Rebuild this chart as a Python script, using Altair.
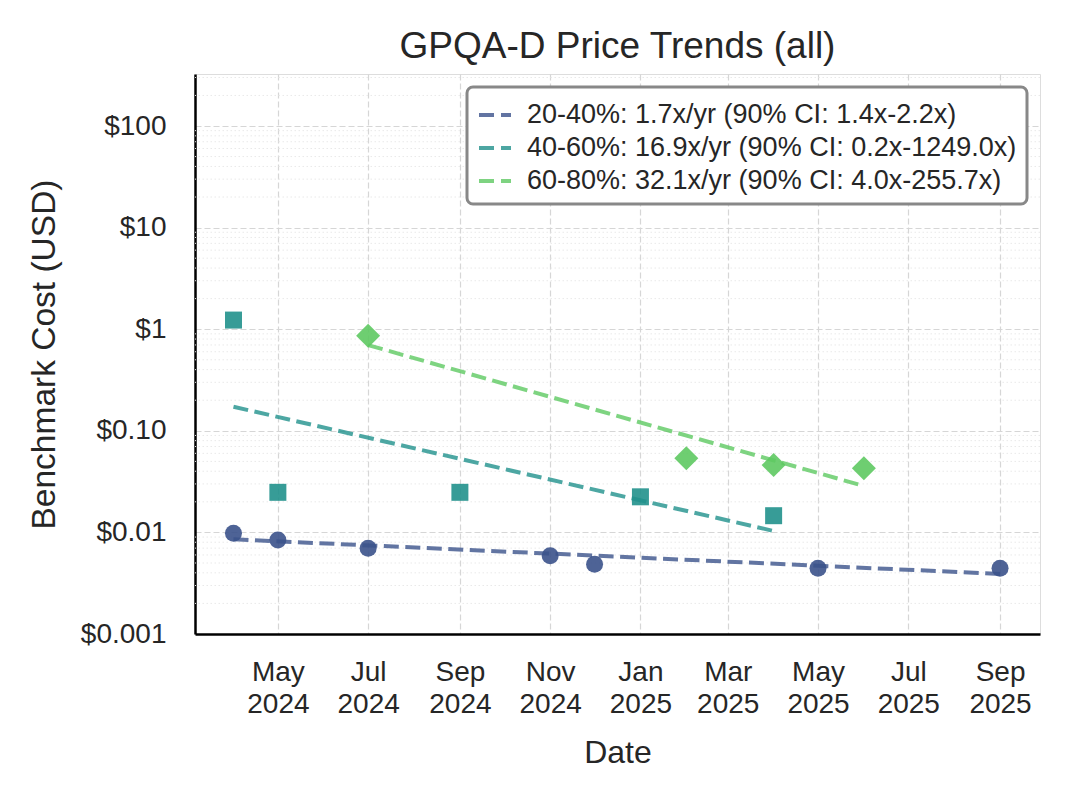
import altair as alt
import pandas as pd

# ---- data ----
series = ["20-40%", "40-60%", "60-80%"]
legend_labels = [
    "20-40%: 1.7x/yr (90% CI: 1.4x-2.2x)",
    "40-60%: 16.9x/yr (90% CI: 0.2x-1249.0x)",
    "60-80%: 32.1x/yr (90% CI: 4.0x-255.7x)",
]
colors = ["#3b528b", "#21918c", "#5ec962"]
shapes = ["circle", "square", "diamond"]
marker_sizes = [289, 289, 576]

point_series = ["20-40%"] * 7 + ["40-60%"] * 5 + ["60-80%"] * 4
point_dates = [
    "2024-04-01", "2024-05-01", "2024-07-01", "2024-11-01", "2024-12-01", "2025-05-01", "2025-09-01",
    "2024-04-01", "2024-05-01", "2024-09-01", "2025-01-01", "2025-04-01",
    "2024-07-01", "2025-02-01", "2025-04-01", "2025-06-01",
]
point_costs = [
    0.0098, 0.0084, 0.0070, 0.0059, 0.00485, 0.00444, 0.00444,
    1.23, 0.0248, 0.0248, 0.0224, 0.0146,
    0.863, 0.0536, 0.046, 0.0428,
]

trend_start_dates = ["2024-04-01", "2024-04-01", "2024-07-01"]
trend_end_dates = ["2025-09-01", "2025-04-01", "2025-06-01"]
trend_start_costs = [0.00855, 0.1726, 0.698]
trend_end_costs = [0.0039, 0.01033, 0.0286]

y_tick_values = [0.001, 0.01, 0.1, 1, 10, 100]
y_tick_labels = ["$0.001", "$0.01", "$0.10", "$1", "$10", "$100"]
minor_multipliers = [2, 3, 4, 5, 6, 7, 8, 9]
x_tick_dates = [(2024, 5), (2024, 7), (2024, 9), (2024, 11), (2025, 1),
                (2025, 3), (2025, 5), (2025, 7), (2025, 9)]

# ---- tables ----
points = pd.DataFrame({"series": point_series, "date": point_dates, "cost": point_costs})
lab_map = dict(zip(series, legend_labels))

trend_rows = []
for s, sd, ed, sc, ec in zip(series, trend_start_dates, trend_end_dates, trend_start_costs, trend_end_costs):
    trend_rows.append({"series": s, "label": lab_map[s], "date": sd, "cost": sc, "order": 0})
    trend_rows.append({"series": s, "label": lab_map[s], "date": ed, "cost": ec, "order": 1})
trends = pd.DataFrame(trend_rows)

minor_vals = []
for base in y_tick_values:
    for m in minor_multipliers:
        v = base * m
        if v <= 325:
            minor_vals.append(v)
minor = pd.DataFrame({"v": minor_vals})

FONT = "Liberation Sans"
TXT = "#262626"

x_domain = [alt.DateTime(year=2024, month=3, date=6, utc=True),
            alt.DateTime(year=2025, month=9, date=28, utc=True)]
x_vals = [alt.DateTime(year=y, month=m, date=1, utc=True) for y, m in x_tick_dates]
x_scale = alt.Scale(type="utc", domain=x_domain)
y_scale = alt.Scale(type="log", domain=[0.001, 325], nice=False)

labels_js = "[" + ",".join("'" + l + "'" for l in y_tick_labels) + "]"

x_axis = alt.Axis(
    title="Date", values=x_vals,
    labelExpr="[utcFormat(datum.value, '%b'), utcFormat(datum.value, '%Y')]",
    ticks=False, labelPadding=24, labelLineHeight=32, labelFontSize=28,
    labelColor=TXT, labelFont=FONT,
    grid=True, gridDash=[6, 3], gridColor="#d6d6d6", gridWidth=1.2,
    domainColor="black", domainWidth=2.5,
    titleFontSize=32, titleFont=FONT, titleColor=TXT, titlePadding=19,
    titleFontWeight="normal",
)
y_axis = alt.Axis(
    title="Benchmark Cost (USD)", values=y_tick_values,
    labelExpr=labels_js + "[round(log(datum.value)/LN10) + 3]",
    ticks=False, labelPadding=29, labelFontSize=28, labelColor=TXT, labelFont=FONT,
    grid=True, gridDash=[6, 3], gridColor="#d6d6d6", gridWidth=1.2,
    domainColor="black", domainWidth=2.5,
    titleFontSize=33.5, titleFont=FONT, titleColor=TXT, titlePadding=19,
    titleFontWeight="normal",
)

minor_layer = alt.Chart(minor).mark_rule(
    color="#e9e9e9", strokeWidth=1, strokeDash=[1.5, 2.5]
).encode(
    y=alt.Y("v:Q", scale=y_scale, axis=y_axis),
)

point_layers = []
for s, c, sh, sz in zip(series, colors, shapes, marker_sizes):
    point_layers.append(
        alt.Chart(points[points["series"] == s]).mark_point(
            filled=True, opacity=0.9, strokeWidth=0, shape=sh, size=sz, color=c
        ).encode(
            x=alt.X("date:T", scale=x_scale, axis=x_axis),
            y=alt.Y("cost:Q", scale=y_scale, axis=y_axis),
        )
    )

line_layer = alt.Chart(trends).mark_line(
    strokeDash=[15, 6.5], strokeWidth=4, opacity=0.8
).encode(
    x=alt.X("date:T", scale=x_scale, axis=x_axis),
    y=alt.Y("cost:Q", scale=y_scale, axis=y_axis),
    order="order:Q",
    detail="series:N",
    stroke=alt.Stroke(
        "label:N",
        scale=alt.Scale(domain=legend_labels, range=colors),
        legend=alt.Legend(
            title=None, orient="none", legendX=272, legendY=13,
            symbolType="stroke", symbolDash=[15, 7], symbolStrokeWidth=4,
            symbolSize=1024, symbolOpacity=0.8,
            labelFontSize=27, labelFont=FONT, labelColor=TXT, labelLimit=2000,
            labelOffset=14, rowPadding=2, padding=10,
            strokeColor="#888888", cornerRadius=6, fillColor="white",
        ),
    ),
)

chart = alt.layer(minor_layer, *point_layers, line_layer).properties(
    width=845, height=560,
    title=alt.TitleParams("GPQA-D Price Trends (all)", fontSize=37, font=FONT,
                          color=TXT, fontWeight="normal", anchor="middle", offset=8),
    autosize=alt.AutoSizeParams(type="none"),
    padding={"left": 187, "top": 66, "right": 20, "bottom": 156},
).configure_view(stroke=None).configure(background="white").configure_legend(strokeWidth=3)

chart.save("out.html", embed_options={"renderer": "svg", "actions": False})
